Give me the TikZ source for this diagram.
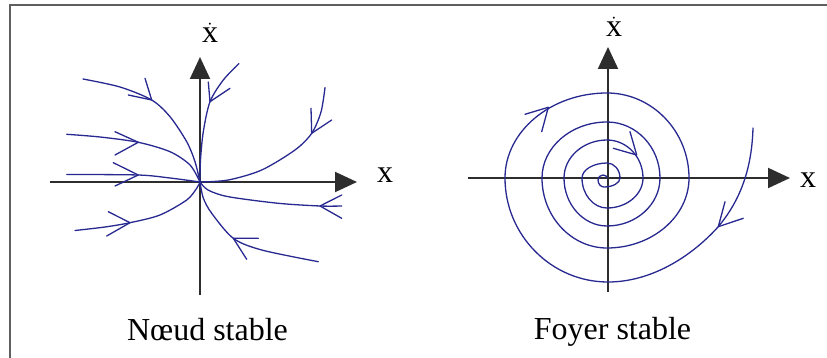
\documentclass[tikz,border=0pt]{standalone}
\usepackage{fontspec}
\setmainfont{Liberation Serif}
\usetikzlibrary{arrows.meta}
\definecolor{curveblue}{RGB}{40,40,145}
\definecolor{axisgray}{RGB}{45,45,45}
\definecolor{framegray}{RGB}{95,95,95}
\tikzset{
  axisline/.style={draw=axisgray,line width=2pt,-{Triangle[length=22pt,width=20pt]},fill=axisgray},
  traj/.style={draw=curveblue,line width=1.3pt,line join=round,line cap=round},
  barbs/.style={draw=curveblue,line width=1.3pt,line join=round,line cap=round},
  lbl/.style={font=\fontsize{32}{36}\selectfont,anchor=base,inner sep=0pt},
  framestyle/.style={draw=framegray,line width=2.2pt}
}
\begin{document}
\begin{tikzpicture}[x=1pt,y=-1pt]
\useasboundingbox (0,0) rectangle (827,358);
% frame
\draw[framestyle] (10,358) -- (10,5) -- (827,5);

% ---------- left panel: noeud stable ----------
\coordinate (O1) at (200,182);
\coordinate (L1xs) at (50,182);
\coordinate (L1xe) at (357,182);
\coordinate (L1ys) at (200,295);
\coordinate (L1ye) at (200,57);
\draw[axisline] (L1xs) -- (L1xe);
\draw[axisline] (L1ys) -- (L1ye);
\node[lbl] (dx1) at (210,43) {$\dot{\mathrm{x}}$};
\node[lbl] (x1) at (385,183) {x};
\node[lbl] (cap1) at (207.5,340) {Nœud stable};

\draw[traj] plot[smooth] coordinates {(83,79) (120,87) (151.7,100) (170,116.7) (186.7,141.7) (195,161.7) (200,182)};
\draw[barbs] (145,78.3) -- (151.7,100) -- (128.3,95);

\draw[traj] plot[smooth] coordinates {(66.7,134.3) (100,137) (138.3,142.3) (170,151.7) (190,165) (200,182)};
\draw[barbs] (115,131.7) -- (138.3,142.3) -- (115,155);

\draw[traj] plot[smooth] coordinates {(66.7,174.5) (138.3,175) (170,178) (200,182)};
\draw[barbs] (113.3,162.7) -- (138.3,175) -- (115,186);

\draw[traj] plot[smooth] coordinates {(75,230.5) (105,227) (130,222.7) (160,215) (186.7,200) (196.7,188.3) (200,182)};
\draw[barbs] (108.3,211.7) -- (130,222.7) -- (106.7,236);

\draw[traj] plot[smooth] coordinates {(239,63.5) (223.3,80) (210,101.7) (203.3,131.7) (200.5,160) (200,182)};
\draw[barbs] (230,88.3) -- (210,101.7) -- (208.3,82);

\draw[traj] plot[smooth] coordinates {(325,87.5) (321,112) (311.7,133.3) (295,150) (261.7,170) (228.3,180) (200,182)};
\draw[barbs] (311,108.3) -- (311.7,133.3) -- (331.7,120);

\draw[traj] plot[smooth] coordinates {(200,182) (208,190) (228.3,196.7) (278.3,203.3) (320,206) (341.7,206)};
\draw[barbs] (341.7,195) -- (320,206) -- (341.7,218.3);

\draw[traj] plot[smooth] coordinates {(200,182) (203.3,198) (211.7,213.3) (233.3,238.3) (261.7,250) (318.3,261.7)};
\draw[barbs] (258.3,238.3) -- (233.3,238.3) -- (246.7,259.3);

% ---------- right panel: foyer stable ----------
\coordinate (O2) at (608,178);
\draw[axisline] (468,178) -- (790,178);
\draw[axisline] (608,292) -- (608,47);
\node[lbl] (dx2) at (614,37) {$\dot{\mathrm{x}}$};
\node[lbl] (x2) at (808,188) {x};
\node[lbl] (cap2) at (612.5,339) {Foyer stable};

\draw[traj] (753,128) .. controls (752,160) and (745,195) .. (718,227)
  .. controls (690,258) and (650,282) .. (608,282)
  .. controls (551.4,282) and (505,235.2) .. (505,178)
  .. controls (505,131.3) and (550.9,93) .. (607,93)
  .. controls (652.1,93) and (689,131.3) .. (689,178)
  .. controls (689,216.5) and (652.1,248) .. (607,248)
  .. controls (571.3,248) and (542,216.5) .. (542,178)
  .. controls (542,147.2) and (571.3,122) .. (607,122)
  .. controls (636.2,122) and (660,147.2) .. (660,178)
  .. controls (660,204.4) and (636.2,226) .. (607,226)
  .. controls (583.4,226) and (564,204.4) .. (564,178)
  .. controls (564,157.1) and (583.4,140) .. (607,140)
  .. controls (626.8,140) and (643,157.1) .. (643,178)
  .. controls (643,194.5) and (626.8,208) .. (607,208)
  .. controls (593.3,208) and (582,194.5) .. (582,178)
  .. controls (582,169.8) and (593.3,163) .. (607,163)
  .. controls (614.2,163) and (620,169.8) .. (620,178)
  .. controls (620,183) and (612.8,187) .. (604,187)
  .. controls (600.7,187) and (598,183.9) .. (598,180)
  .. controls (598,177.2) and (600.2,175) .. (603,175)
  .. controls (605.2,175) and (607,176.3) .. (607,178);
\draw[barbs] (725,201.7) -- (718.3,226.7) -- (743.3,218.3);
\draw[barbs] (525,114.3) -- (548.3,107.3) -- (541.7,131.7);
\draw[barbs] (630,131.7) -- (636.7,155) -- (613.3,148.3);
\end{tikzpicture}
\end{document}
